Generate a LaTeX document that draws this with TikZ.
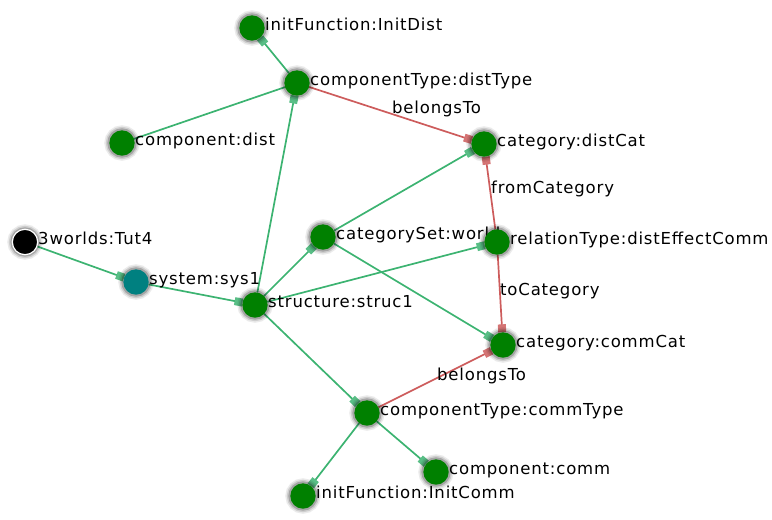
\documentclass[tikz,border=0pt]{standalone}
\usepackage{fontspec}
\newfontfamily\lblfont{DejaVu Sans}[LetterSpace=5]
\usetikzlibrary{arrows.meta,backgrounds}
\definecolor{ngreen}{HTML}{008000}
\definecolor{nteal}{HTML}{008080}
\definecolor{egreen}{HTML}{3CB371}
\definecolor{ered}{HTML}{CD5C5C}
\tikzset{
  glow/.style={preaction={draw=black,opacity=0.08,line width=10pt},
               preaction={draw=black,opacity=0.12,line width=7pt},
               preaction={draw=black,opacity=0.2,line width=4pt}},
  vtx/.style={circle,minimum size=25.4pt,inner sep=0pt,outer sep=0pt,fill=ngreen,glow},
  lbl/.style={anchor=base west,inner sep=0pt,font=\lblfont\fontsize{16.5}{19}\selectfont},
  gline/.style={draw=egreen,line width=1.7pt},
  gedge/.style={gline,-{Rectangle[length=8pt,width=8pt,color=egreen!85!white]}},
  redge/.style={draw=ered,line width=1.7pt,-{Rectangle[length=8pt,width=8pt,color=ered!85!white]}},
}
\begin{document}
\begin{tikzpicture}[x=1pt,y=-1pt]
\useasboundingbox (0,0) rectangle (772,520);
% nodes and their labels
\node[vtx,fill=black,draw=white,line width=1.2pt] (tut) at (25,242) {};
\node[lbl] (tutl) at (38,244) {3worlds:Tut4};
\node[vtx,fill=nteal] (sys) at (136,282) {};
\node[lbl] (sysl) at (149,284) {system:sys1};
\node[vtx] (initD) at (252,28) {};
\node[lbl] (initDl) at (265,30) {initFunction:InitDist};
\node[vtx] (compD) at (122,143) {};
\node[lbl] (compDl) at (135,145) {component:dist};
\node[vtx] (distT) at (297,83) {};
\node[lbl] (distTl) at (310,85) {componentType:distType};
\node[vtx] (distC) at (484,144) {};
\node[lbl] (distCl) at (497,146) {category:distCat};
\node[vtx] (world) at (323,237) {};
\node[lbl] (worldl) at (336,239) {categorySet:world};
\node[vtx] (rel) at (497,242) {};
\node[lbl] (rell) at (510,244) {relationType:distEffectComm};
\node[vtx] (struc) at (255,305) {};
\node[lbl] (strucl) at (268,307) {structure:struc1};
\node[vtx] (commC) at (503,345) {};
\node[lbl] (commCl) at (516,347) {category:commCat};
\node[vtx] (commT) at (367,413) {};
\node[lbl] (commTl) at (380,415) {componentType:commType};
\node[vtx] (comm) at (436,472) {};
\node[lbl] (comml) at (449,474) {component:comm};
\node[vtx] (initC) at (303,496) {};
\node[lbl] (initCl) at (316,498) {initFunction:InitComm};
% edge labels
\node[lbl] (bt1) at (392,113) {belongsTo};
\node[lbl] (fc) at (491,193) {fromCategory};
\node[lbl] (tc) at (500,295) {toCategory};
\node[lbl] (bt2) at (437,380) {belongsTo};
% connectors
\begin{scope}[on background layer]
\draw[gedge] (tut) -- (sys);
\draw[gedge] (sys) -- (struc);
\draw[gedge] (struc) -- (distT);
\draw[gedge] (distT) -- (initD);
\draw[gline] (distT) -- (compD);
\draw[gedge] (struc) -- (world);
\draw[gedge] (struc) -- (rel);
\draw[gedge] (struc) -- (commT);
\draw[gedge] (world) -- (distC);
\draw[gedge] (world) -- (commC);
\draw[gedge] (commT) -- (comm);
\draw[gedge] (commT) -- (initC);
\draw[redge] (distT) -- (distC);
\draw[redge] (rel) -- (distC);
\draw[redge] (rel) -- (commC);
\draw[redge] (commT) -- (commC);
\end{scope}
\end{tikzpicture}
\end{document}
